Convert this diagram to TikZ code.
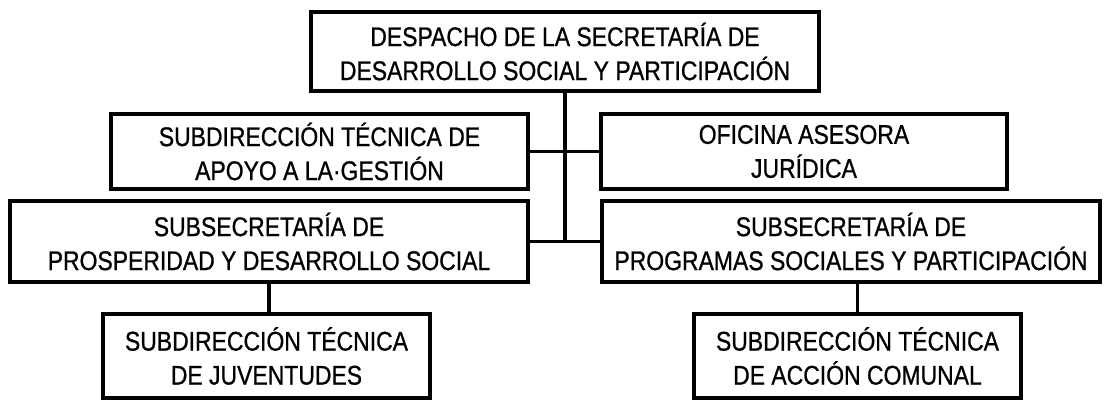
\documentclass[tikz,border=0pt]{standalone}
\usepackage{fontspec}
\setmainfont[FakeStretch=0.85,FakeBold=0.8]{Liberation Sans}
\tikzset{orgbox/.style={rectangle,draw,line width=3.2pt,align=center,inner sep=0pt,
  font=\fontsize{27}{34}\selectfont}}

\begin{document}
\begin{tikzpicture}[x=1pt,y=-1pt,line width=3.2pt]
\useasboundingbox (0,0) rectangle (1104,400);
\node at (565,51.5) [orgbox,minimum width=508,minimum height=79] (desp) {DESPACHO DE LA SECRETARÍA DE\\DESARROLLO SOCIAL Y PARTICIPACIÓN};
\node at (319.5,151.5) [orgbox,minimum width=417,minimum height=75] (apoyo) {SUBDIRECCIÓN TÉCNICA DE\\APOYO A LA·GESTIÓN};
\node at (804,151.5) [orgbox,minimum width=406,minimum height=75] (jur) {OFICINA ASESORA\\JURÍDICA};
\node at (269,241.5) [orgbox,minimum width=518,minimum height=81] (sub1) {SUBSECRETARÍA DE\\PROSPERIDAD Y DESARROLLO SOCIAL};
\node at (851,241.5) [orgbox,minimum width=498,minimum height=81] (sub2) {SUBSECRETARÍA DE\\PROGRAMAS SOCIALES Y PARTICIPACIÓN};
\node at (266.5,356) [orgbox,minimum width=327,minimum height=84] (juv) {SUBDIRECCIÓN TÉCNICA\\DE JUVENTUDES};
\node at (857.5,356) [orgbox,minimum width=327,minimum height=84] (acc) {SUBDIRECCIÓN TÉCNICA\\DE ACCIÓN COMUNAL};
\draw (desp.south) -- (desp.south |- sub1.east);
\draw (apoyo.east) -- (jur.west);
\draw (sub1.east) -- (sub2.west);
\draw (sub1.south) -- (sub1.south |- juv.north);
\draw (acc.north |- sub2.south) -- (acc.north);
\end{tikzpicture}
\end{document}
